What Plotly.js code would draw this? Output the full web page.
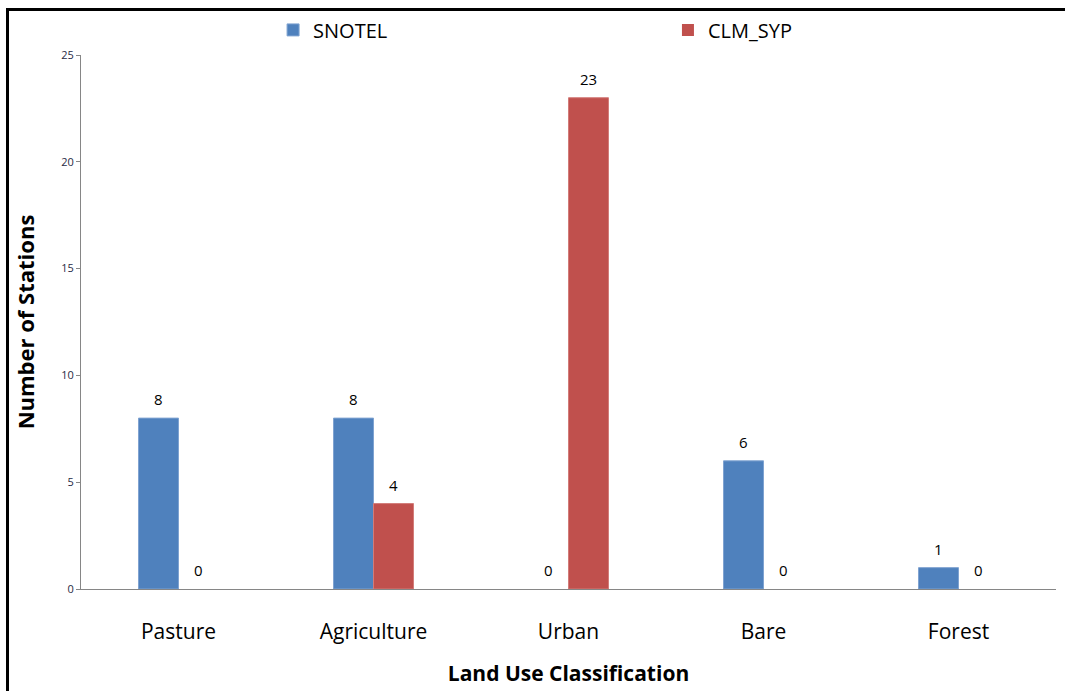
<!DOCTYPE html>
<html>
<head>
<meta charset="utf-8">
<script src="https://cdn.plot.ly/plotly-3.0.1.min.js"></script>
<style>
  html, body { margin: 0; padding: 0; background: #fff; overflow: hidden; }
  #chart { width: 1065px; height: 691px; }
  #frame {
    position: absolute; left: 6px; top: 8px; width: 1070px; height: 700px;
    border-left: 3px solid #000; border-top: 3px solid #000;
    pointer-events: none;
  }
</style>
</head>
<body>
<div id="chart"></div>
<div id="frame"></div>
<script>
// Land use classes and station counts per source
const categories = ['Pasture', 'Agriculture', 'Urban', 'Bare', 'Forest'];
const snotelCounts = [8, 8, 0, 6, 1];
const clmSypCounts = [0, 4, 23, 0, 0];
const yTicks = [0, 5, 10, 15, 20, 25];

const FONT = '"Open Sans", sans-serif';
const BAR_HALF = 20; // px offset of each bar centre from its category centre

// Hide the outline on zero-height bars so nothing is drawn for them
const edgeWidths = vals => vals.map(v => (v === 0 ? 0 : 1));

const traces = [
  {
    type: 'bar', name: 'SNOTEL', x: categories, y: snotelCounts, legend: 'legend',
    marker: { color: '#4F81BD', line: { color: '#7FA3D1', width: edgeWidths(snotelCounts) } }
  },
  {
    type: 'bar', name: 'CLM_SYP', x: categories, y: clmSypCounts, legend: 'legend2',
    marker: { color: '#C0504D', line: { color: '#D27C79', width: edgeWidths(clmSypCounts) } }
  }
];

// Value labels above each bar
function valueLabels(vals, shift) {
  return vals.map((v, i) => ({
    x: categories[i], y: v, xref: 'x', yref: 'y',
    text: String(v), showarrow: false, yanchor: 'bottom',
    xshift: shift, yshift: 7,
    font: { family: FONT, size: 15, color: '#000' }
  }));
}

const legendStyle = {
  orientation: 'h', xanchor: 'left', y: 1.047, yanchor: 'middle',
  font: { family: FONT, size: 20, color: '#000' }, bgcolor: 'rgba(0,0,0,0)'
};

const layout = {
  width: 1065, height: 691,
  margin: { l: 81, r: 9, t: 55, b: 102 },
  paper_bgcolor: '#fff', plot_bgcolor: '#fff',
  font: { family: FONT, color: '#000' },
  barmode: 'group', bargap: 0.59, bargroupgap: 0,
  showlegend: true,
  legend: Object.assign({ x: 0.197 }, legendStyle),
  legend2: Object.assign({ x: 0.602 }, legendStyle),
  annotations: valueLabels(snotelCounts, -BAR_HALF).concat(valueLabels(clmSypCounts, BAR_HALF)),
  xaxis: {
    showline: true, linecolor: '#868686', linewidth: 1,
    ticks: '', tickfont: { family: FONT, size: 21, color: '#000' },
    ticklabelstandoff: 24,
    title: { text: '<b>Land Use Classification</b>', font: { family: FONT, size: 21, color: '#000' }, standoff: 22 }
  },
  yaxis: {
    range: [0, 25], tickvals: yTicks, showgrid: false, zeroline: false,
    showline: true, linecolor: '#868686', linewidth: 1,
    ticks: 'outside', ticklen: 4, tickcolor: '#868686',
    tickfont: { family: FONT, size: 11, color: '#1F2A44' },
    title: { text: '<b>Number of Stations</b>', font: { family: FONT, size: 22, color: '#000' }, standoff: 20 }
  }
};

Plotly.newPlot('chart', traces, layout, { displayModeBar: false, staticPlot: true });
</script>
</body>
</html>
